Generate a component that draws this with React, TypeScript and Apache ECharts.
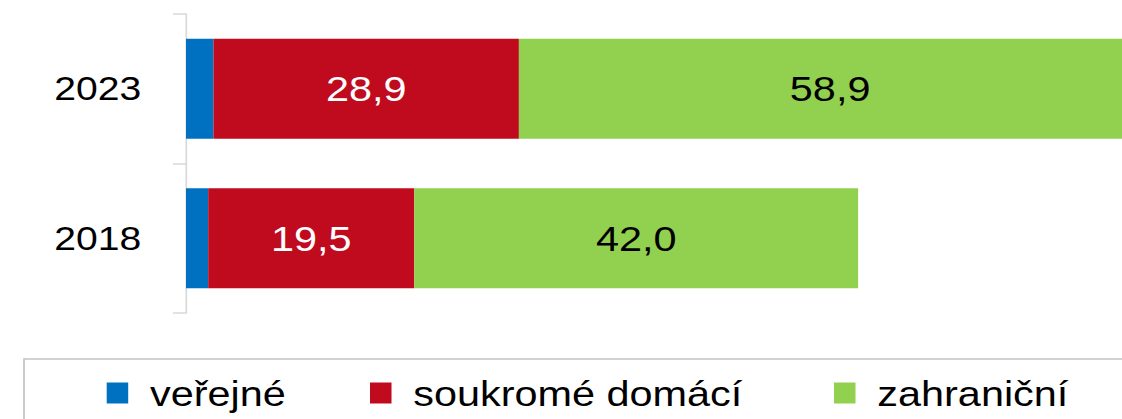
import React, { useEffect, useRef } from "react";
import * as echarts from "echarts";

const categories = ["2018", "2023"];
const seriesNames = ["veřejné", "soukromé domácí", "zahraniční"];
const verejne = [2.1, 2.6];
const soukrome = [19.5, 28.9];
const zahranicni = [42.0, 58.9];

const SX = 1.15;
const W = 1160 / SX;
const FONT = "'Liberation Sans', Arial, sans-serif";

export default function App() {
  const ref = useRef<HTMLDivElement>(null);
  useEffect(() => {
    document.body.style.margin = "0";
    if (!ref.current) return;
    const chart = echarts.init(ref.current, null, { renderer: "svg" });
    const colors = ["#0070C0", "#C00A1E", "#92D050"];
    const labelFmt = (p: any) => String(Number(p.value).toFixed(1)).replace(".", ",");
    const mkLegend = (name: string, left: number) => ({
      show: true,
      data: [{ name, icon: "rect" }],
      left,
      top: 375,
      padding: 0,
      itemWidth: 18.7,
      itemHeight: 21,
      itemGap: 0,
      textStyle: {
        fontFamily: FONT,
        fontSize: 36,
        color: "#000",
        padding: [0, 0, 0, 14],
      },
    });
    chart.setOption({
      animation: false,
      color: colors,
      grid: { left: 186 / SX, right: W - 1141 / SX, top: 14, bottom: 106 },
      xAxis: {
        type: "value",
        min: 0,
        max: 90.4,
        show: false,
      },
      yAxis: {
        type: "category",
        data: categories,
        axisLine: { show: true, lineStyle: { color: "#d9d9d9", width: 1.5 } },
        axisTick: { show: true, length: 11.3, lineStyle: { color: "#d9d9d9", width: 1.5 } },
        axisLabel: {
          fontFamily: FONT,
          fontSize: 34,
          color: "#000",
          margin: 39,
        },
      },
      legend: [
        mkLegend(seriesNames[0], 106.7 / SX),
        mkLegend(seriesNames[1], 370 / SX),
        mkLegend(seriesNames[2], 834 / SX),
      ],
      graphic: [
        {
          type: "rect",
          shape: { x: 24 / SX, y: 359, width: 1000, height: 100 },
          style: { fill: "none", stroke: "#c4c4c4", lineWidth: 1.5 },
          silent: true,
        },
      ],
      series: [
        {
          name: seriesNames[0],
          type: "bar",
          stack: "t",
          barWidth: 100,
          data: verejne,
          label: { show: false },
        },
        {
          name: seriesNames[1],
          type: "bar",
          stack: "t",
          barWidth: 100,
          data: soukrome,
          label: {
            show: true,
            position: "inside",
            formatter: labelFmt,
            fontFamily: FONT,
            fontSize: 36,
            color: "#fff",
          },
        },
        {
          name: seriesNames[2],
          type: "bar",
          stack: "t",
          barWidth: 100,
          data: zahranicni,
          label: {
            show: true,
            position: "inside",
            formatter: labelFmt,
            fontFamily: FONT,
            fontSize: 36,
            color: "#000",
          },
        },
      ],
    });
    return () => chart.dispose();
  }, []);
  return (
    <div style={{ width: 1122, height: 419, overflow: "hidden", position: "relative" }}>
      <div
        ref={ref}
        style={{
          width: W,
          height: 419,
          transform: `scaleX(${SX})`,
          transformOrigin: "0 0",
        }}
      />
    </div>
  );
}
